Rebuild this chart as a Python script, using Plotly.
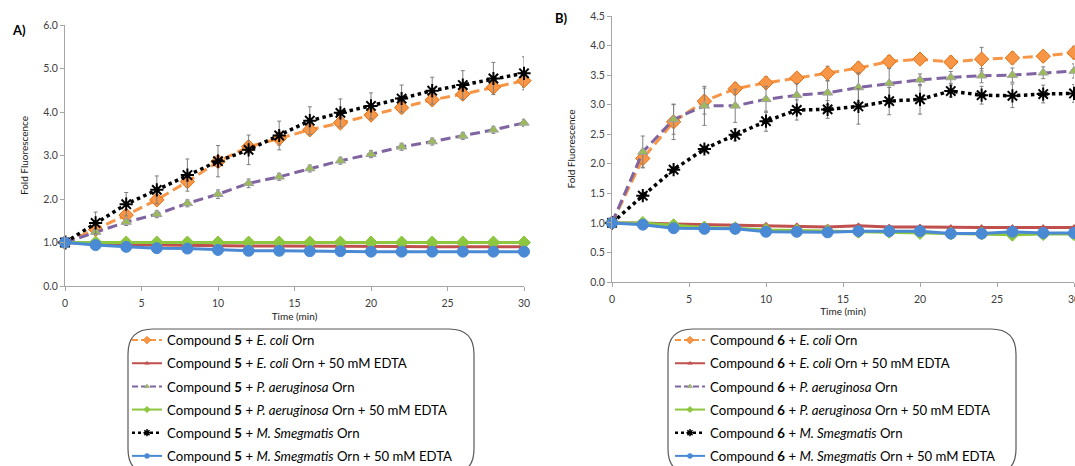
import plotly.graph_objects as go

W, H = 1075, 466

time = [0, 2, 4, 6, 8, 10, 12, 14, 16, 18, 20, 22, 24, 26, 28, 30]

# ---------------- Panel A : Compound 5 ----------------
a_ecoli = [1.00, 1.30, 1.63, 1.98, 2.40, 2.86, 3.20, 3.39, 3.59, 3.75, 3.93, 4.10, 4.28, 4.41, 4.57, 4.72]
a_ecoli_err = [0.05, 0.08, 0.10, 0.10, 0.12, 0.10, 0.12, 0.15, 0.10, 0.12, 0.10, 0.12, 0.10, 0.10, 0.12, 0.15]
a_ecoli_edta = [1.00, 0.97, 0.95, 0.94, 0.93, 0.93, 0.92, 0.92, 0.92, 0.91, 0.91, 0.91, 0.90, 0.90, 0.90, 0.90]
a_pa = [1.00, 1.24, 1.47, 1.65, 1.90, 2.11, 2.36, 2.51, 2.70, 2.88, 3.03, 3.20, 3.32, 3.45, 3.59, 3.75]
a_pa_err = [0.05, 0.06, 0.08, 0.08, 0.08, 0.10, 0.10, 0.08, 0.08, 0.08, 0.08, 0.08, 0.08, 0.08, 0.08, 0.08]
a_pa_edta = [1.00, 1.00, 1.00, 1.00, 1.00, 1.00, 1.00, 1.00, 1.00, 1.00, 1.00, 1.00, 1.00, 1.00, 1.00, 1.00]
a_ms = [1.00, 1.45, 1.88, 2.21, 2.55, 2.87, 3.13, 3.46, 3.80, 3.98, 4.14, 4.31, 4.49, 4.62, 4.77, 4.89]
a_ms_err = [0.15, 0.25, 0.27, 0.32, 0.37, 0.36, 0.34, 0.33, 0.32, 0.32, 0.30, 0.31, 0.31, 0.33, 0.37, 0.38]
a_ms_edta = [1.00, 0.94, 0.90, 0.87, 0.86, 0.83, 0.81, 0.81, 0.80, 0.80, 0.79, 0.79, 0.79, 0.79, 0.79, 0.79]

# ---------------- Panel B : Compound 6 ----------------
b_ecoli = [1.00, 2.09, 2.71, 3.06, 3.27, 3.37, 3.45, 3.53, 3.62, 3.73, 3.77, 3.72, 3.77, 3.79, 3.82, 3.88]
b_ecoli_err = [0.05, 0.15, 0.30, 0.22, 0.10, 0.10, 0.08, 0.12, 0.10, 0.10, 0.08, 0.10, 0.20, 0.10, 0.08, 0.10]
b_ecoli_edta = [1.00, 1.00, 0.98, 0.97, 0.96, 0.96, 0.95, 0.93, 0.95, 0.93, 0.93, 0.92, 0.92, 0.92, 0.92, 0.92]
b_pa = [1.00, 2.20, 2.75, 2.98, 2.98, 3.09, 3.16, 3.20, 3.29, 3.36, 3.42, 3.46, 3.49, 3.50, 3.54, 3.57]
b_pa_err = [0.05, 0.27, 0.25, 0.33, 0.28, 0.22, 0.20, 0.20, 0.25, 0.25, 0.10, 0.10, 0.12, 0.12, 0.10, 0.12]
b_pa_edta = [1.00, 1.00, 0.96, 0.92, 0.91, 0.88, 0.87, 0.86, 0.85, 0.85, 0.83, 0.82, 0.82, 0.80, 0.81, 0.81]
b_ms = [1.00, 1.46, 1.90, 2.25, 2.49, 2.72, 2.91, 2.92, 2.97, 3.06, 3.09, 3.23, 3.16, 3.15, 3.18, 3.19]
b_ms_err = [0.05, 0.05, 0.05, 0.05, 0.10, 0.17, 0.17, 0.15, 0.30, 0.23, 0.25, 0.10, 0.15, 0.20, 0.15, 0.15]
b_ms_edta = [1.00, 0.97, 0.91, 0.90, 0.90, 0.85, 0.85, 0.84, 0.86, 0.86, 0.86, 0.82, 0.82, 0.85, 0.83, 0.83]

legend_labels = [
    "Compound <b>{c}</b> + <i>E. coli</i> Orn",
    "Compound <b>{c}</b> + <i>E. coli</i> Orn + 50 mM EDTA",
    "Compound <b>{c}</b> + <i>P. aeruginosa</i> Orn",
    "Compound <b>{c}</b> + <i>P. aeruginosa</i> Orn + 50 mM EDTA",
    "Compound <b>{c}</b> + <i>M. Smegmatis</i> Orn",
    "Compound <b>{c}</b> + <i>M. Smegmatis</i> Orn + 50 mM EDTA",
]

ORANGE = "#F79646"
RED = "#C0504D"
PURPLE = "#8064A2"
GREEN = "#8DC63F"
TRI_GREEN = "#9BBB59"
BLACK = "#000000"
BLUE = "#4A89D4"
ERR = "#7F7F7F"

styles = [
    dict(color=ORANGE, dash="10px,5px", symbol="diamond", msize=11, mcolor=ORANGE, mline="#E46C0A", lsize=6),
    dict(color=RED, dash="solid", symbol="triangle-up", msize=6, mcolor=RED, mline=RED, lsize=4),
    dict(color=PURPLE, dash="10px,5px", symbol="triangle-up", msize=9, mcolor=TRI_GREEN, mline="#A0A0A0", lsize=5),
    dict(color=GREEN, dash="solid", symbol="diamond", msize=10, mcolor=GREEN, mline=GREEN, lsize=5),
    dict(color=BLACK, dash="dot", symbol="asterisk-open", msize=11, mcolor=BLACK, mline=BLACK, lsize=6),
    dict(color=BLUE, dash="solid", symbol="circle", msize=11, mcolor=BLUE, mline=BLUE, lsize=5),
]

panels = [
    dict(c=5, xa="x", ya="y", legend="legend",
         series=[a_ecoli, a_ecoli_edta, a_pa, a_pa_edta, a_ms, a_ms_edta],
         errs=[a_ecoli_err, None, a_pa_err, None, a_ms_err, None]),
    dict(c=6, xa="x2", ya="y2", legend="legend2",
         series=[b_ecoli, b_ecoli_edta, b_pa, b_pa_edta, b_ms, b_ms_edta],
         errs=[b_ecoli_err, None, b_pa_err, None, b_ms_err, None]),
]

fig = go.Figure()
for p in panels:
    for i, (vals, err) in enumerate(zip(p["series"], p["errs"])):
        st = styles[i]
        errs = err if err else [0.02] * len(vals)
        is_ast = st["symbol"] == "asterisk-open"
        fig.add_trace(go.Scatter(
            x=time, y=vals, mode="lines+markers", showlegend=False,
            line=dict(color=st["color"], width=3.5 if st["dash"] == "dot" else 3, dash=st["dash"]),
            marker=dict(symbol=st["symbol"], size=st["msize"], color=st["mcolor"],
                        line=dict(color=st["mline"], width=2 if is_ast else 1)),
            error_y=dict(type="data", array=errs, color=ERR, thickness=1, width=2),
            xaxis=p["xa"], yaxis=p["ya"], cliponaxis=False,
            name=legend_labels[i].format(c=p["c"]),
        ))
    # legend entries (small sample line + marker, as in the original key)
    for i in range(6):
        st = styles[i]
        is_ast = st["symbol"] == "asterisk-open"
        fig.add_trace(go.Scatter(
            x=[None], y=[None], mode="lines+markers",
            name=legend_labels[i].format(c=p["c"]),
            line=dict(color=st["color"], width=2.5 if st["dash"] == "dot" else 2,
                      dash="6px,3px" if st["dash"] != "solid" and st["dash"] != "dot" else st["dash"]),
            marker=dict(symbol=st["symbol"], size=st["lsize"], color=st["mcolor"],
                        line=dict(color=st["mline"], width=1.5 if is_ast else 0.5)),
            xaxis=p["xa"], yaxis=p["ya"], legend=p["legend"],
            legendgroup=f"{p['c']}-{i}",
        ))

def px_x(v):
    return v / W

def px_y(v):
    return 1 - v / H

axis_common = dict(showgrid=False, zeroline=False, showline=True, linecolor="#A6A6A6",
                   linewidth=1, ticks="outside", ticklen=4, tickcolor="#A6A6A6", automargin=False,
                   ticklabeloverflow="allow",
                   tickfont=dict(family="Lato", size=10.5, color="#404040"))
title_font = dict(family="Lato", size=10, color="#202020")

fig.update_layout(
    width=W, height=H,
    margin=dict(l=0, r=0, t=0, b=0, autoexpand=False),
    paper_bgcolor="white", plot_bgcolor="white",
    font=dict(family="Lato", color="#000000"),
    showlegend=True,
    xaxis=dict(domain=[px_x(65), px_x(524)], range=[0, 30], dtick=5, anchor="y", ticklabelstandoff=3,
               title=dict(text="Time (min)", font=title_font, standoff=5), **axis_common),
    yaxis=dict(domain=[px_y(286), px_y(25)], range=[0, 6], dtick=1, tickformat=".1f", anchor="x",
               title=dict(text="Fold Fluorescence", font=title_font, standoff=12), **axis_common),
    xaxis2=dict(domain=[px_x(612), px_x(1074)], range=[0, 30], dtick=5, anchor="y2", ticklabelstandoff=3,
                title=dict(text="Time (min)", font=title_font, standoff=3), **axis_common),
    yaxis2=dict(domain=[px_y(282), px_y(16)], range=[0, 4.5], dtick=0.5, tickformat=".1f", anchor="x2",
                title=dict(text="Fold Fluorescence", font=title_font, standoff=12), **axis_common),
    legend=dict(x=px_x(127), y=px_y(325), xanchor="left", yanchor="top",
                bgcolor="rgba(0,0,0,0)", borderwidth=0, tracegroupgap=3,
                font=dict(family="Lato", size=13.2, color="#000000"), itemwidth=30),
    legend2=dict(x=px_x(670), y=px_y(325), xanchor="left", yanchor="top",
                 bgcolor="rgba(0,0,0,0)", borderwidth=0, tracegroupgap=3,
                 font=dict(family="Lato", size=13.2, color="#000000"), itemwidth=30),
)

def rounded_box(x0, y0, x1, y1, r):
    rx, ry = r / W, r / H
    X0, X1 = px_x(x0), px_x(x1)
    Y0, Y1 = px_y(y0), px_y(y1)  # Y0 top (larger), Y1 bottom
    return (f"M {X0+rx},{Y0} L {X1-rx},{Y0} Q {X1},{Y0} {X1},{Y0-ry} "
            f"L {X1},{Y1+ry} Q {X1},{Y1} {X1-rx},{Y1} "
            f"L {X0+rx},{Y1} Q {X0},{Y1} {X0},{Y1+ry} "
            f"L {X0},{Y0-ry} Q {X0},{Y0} {X0+rx},{Y0} Z")

for (bx0, bx1) in [(128, 474), (668, 1016)]:
    fig.add_shape(type="path", xref="paper", yref="paper",
                  path=rounded_box(bx0, 329, bx1, 474, 25),
                  line=dict(color="#595959", width=1.2), fillcolor="rgba(0,0,0,0)")

fig.add_annotation(text="<b>A)</b>", x=px_x(10), y=px_y(30), xref="paper", yref="paper",
                   xanchor="left", yanchor="middle", showarrow=False,
                   font=dict(family="Lato", size=13, color="#000000"))
fig.add_annotation(text="<b>B)</b>", x=px_x(553), y=px_y(18), xref="paper", yref="paper",
                   xanchor="left", yanchor="middle", showarrow=False,
                   font=dict(family="Lato", size=13, color="#000000"))

fig.write_html("out.html")
